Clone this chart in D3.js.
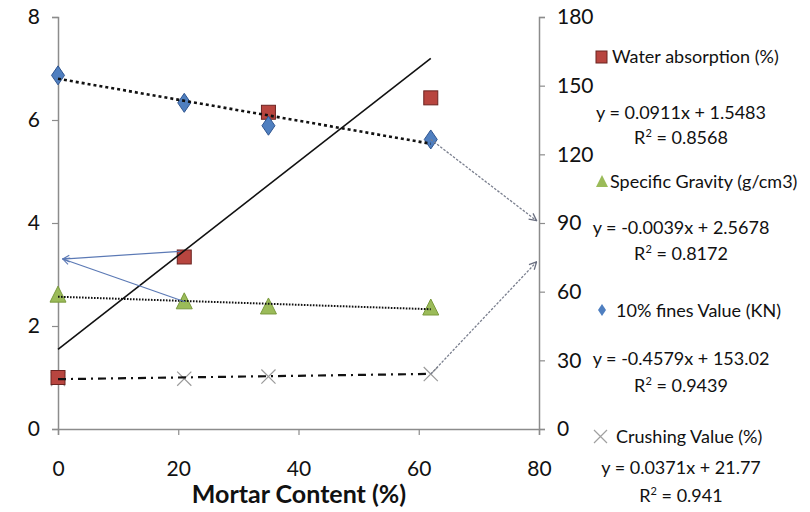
<!DOCTYPE html>
<html>
<head>
<meta charset="utf-8">
<script src="https://cdn.jsdelivr.net/npm/d3@7.9.0/dist/d3.min.js"></script>
<style>
  body { margin: 0; background: #fff; }
  svg { display: block; font-family: Lato, "Open Sans", sans-serif; }
</style>
</head>
<body>
<svg id="chart" width="810" height="512"></svg>
<script>
const mortar = [0, 21, 35, 62];
const waterAbsorption = [1.0, 3.34, 6.15, 6.43];   // left axis
const specificGravity = [2.58, 2.45, 2.35, 2.33];  // left axis
const finesValue = [154.5, 142.5, 132.5, 126.5];   // right axis
const crushingValue = [21.8, 22.0, 22.9, 24.0];    // right axis

const xTicks = [0, 20, 40, 60, 80];
const leftTicks = [0, 2, 4, 6, 8];
const rightTicks = [0, 30, 60, 90, 120, 150, 180];

// trend lines: [slope, intercept]
const waterFit = [0.0911, 1.5483];
const gravityFit = [-0.0039, 2.5678];
const finesFit = [-0.4579, 153.02];
const crushFit = [0.0371, 21.77];

// annotation arrows left in the picture
const blueLeaders = [[[20.3, 3.45], [0.8, 3.3]], [[21.1, 2.47], [0.8, 3.3]]];
const grayArrows = [[[62, 126.5], [79.6, 91]], [[62, 24.0], [79.6, 73]]];

const legendItems = [
  { name: 'Water absorption (%)', eq: 'y = 0.0911x + 1.5483', r2: '0.8568' },
  { name: 'Specific Gravity (g/cm3)', eq: 'y = -0.0039x + 2.5678', r2: '0.8172' },
  { name: '10% fines Value (KN)', eq: 'y = -0.4579x + 153.02', r2: '0.9439' },
  { name: 'Crushing Value (%)', eq: 'y = 0.0371x + 21.77', r2: '0.941' }
];

const svg = d3.select('#chart');
const x = d3.scaleLinear().domain([0, 80]).range([58, 539]);
const yL = d3.scaleLinear().domain([0, 8]).range([429, 17]);
const yR = d3.scaleLinear().domain([0, 180]).range([429, 17]);

const axisColor = '#8c8c8c';

const defs = svg.append('defs');
defs.append('marker').attr('id', 'arrBlue').attr('viewBox', '0 0 10 10')
  .attr('refX', 9).attr('refY', 5).attr('markerWidth', 7).attr('markerHeight', 7)
  .attr('orient', 'auto')
  .append('path').attr('d', 'M1,1 L9,5 L1,9').attr('fill', 'none').attr('stroke', '#5b79b5').attr('stroke-width', 1.4);
defs.append('marker').attr('id', 'arrGray').attr('viewBox', '0 0 10 10')
  .attr('refX', 9).attr('refY', 5).attr('markerWidth', 7).attr('markerHeight', 7)
  .attr('orient', 'auto')
  .append('path').attr('d', 'M1,1 L9,5 L1,9').attr('fill', 'none').attr('stroke', '#6a6f80').attr('stroke-width', 1.4);

// axes
const gx = svg.append('g').attr('transform', `translate(0,${yL(0)})`)
  .call(d3.axisBottom(x).tickValues(xTicks).tickSize(6).tickPadding(26));
const gl = svg.append('g').attr('transform', `translate(${x(0)},0)`)
  .call(d3.axisLeft(yL).tickValues(leftTicks).tickSize(6).tickPadding(12));
const gr = svg.append('g').attr('transform', `translate(${x(80)},0)`)
  .call(d3.axisRight(yR).tickValues(rightTicks).tickSize(6).tickPadding(12));
[gx, gl, gr].forEach(g => {
  g.select('.domain').attr('stroke', axisColor).attr('stroke-width', 1.5);
  g.selectAll('.tick line').attr('stroke', axisColor).attr('stroke-width', 1.2);
  g.selectAll('.tick text').attr('font-size', 21).attr('fill', '#111')
    .attr('font-family', 'Lato, sans-serif');
});

svg.append('text').attr('x', 299).attr('y', 503).attr('text-anchor', 'middle')
  .attr('font-size', 25).attr('font-weight', 'bold').attr('fill', '#111')
  .text('Mortar Content (%)');

// markers
const marks = svg.append('g');
marks.selectAll('.crush').data(mortar).join('path')
  .attr('transform', (d, i) => `translate(${x(d)},${yR(crushingValue[i])}) rotate(45)`)
  .attr('d', 'M-10,0 L10,0 M0,-10 L0,10')
  .attr('stroke', '#9a9a9a').attr('stroke-width', 1.2).attr('fill', 'none');
marks.selectAll('.water').data(mortar).join('rect')
  .attr('x', (d) => x(d) - 7).attr('y', (d, i) => yL(waterAbsorption[i]) - 7)
  .attr('width', 14).attr('height', 14)
  .attr('fill', '#b8453f').attr('stroke', '#6b2421').attr('stroke-width', 1);
marks.selectAll('.grav').data(mortar).join('path')
  .attr('transform', (d, i) => `translate(${x(d)},${yL(specificGravity[i])})`)
  .attr('d', 'M0,-10 L8,6 L-8,6 Z')
  .attr('fill', '#9bbb59').attr('stroke', '#7a9a3c').attr('stroke-width', 1);
marks.selectAll('.fines').data(mortar).join('path')
  .attr('transform', (d, i) => `translate(${x(d)},${yR(finesValue[i])})`)
  .attr('d', 'M0,-9.5 L6.5,0 L0,9.5 L-6.5,0 Z')
  .attr('fill', '#4f7fc0').attr('stroke', '#2f5590').attr('stroke-width', 1);

// trend lines
const trend = (fit, y, x0, x1) => [[x(x0), y(fit[1] + fit[0] * x0)], [x(x1), y(fit[1] + fit[0] * x1)]];
const line = d3.line();
svg.append('path').attr('d', line(trend(waterFit, yL, 0, 62)))
  .attr('stroke', '#111').attr('stroke-width', 1.6).attr('fill', 'none');
svg.append('path').attr('d', line(trend(gravityFit, yL, 0, 62)))
  .attr('stroke', '#111').attr('stroke-width', 2).attr('stroke-dasharray', '1.6,1.4').attr('fill', 'none');
svg.append('path').attr('d', line(trend(finesFit, yR, 0, 62)))
  .attr('stroke', '#111').attr('stroke-width', 2.6).attr('stroke-dasharray', '3,3').attr('fill', 'none');
svg.append('path').attr('d', line(trend(crushFit, yR, 0, 62)))
  .attr('stroke', '#111').attr('stroke-width', 2.2).attr('stroke-dasharray', '8,5,2,5').attr('fill', 'none');

// leaders / arrows
blueLeaders.forEach(([a, b]) => {
  svg.append('path').attr('d', line([[x(a[0]), yL(a[1])], [x(b[0]), yL(b[1])]]))
    .attr('stroke', '#5b79b5').attr('stroke-width', 1.2).attr('fill', 'none')
    .attr('marker-end', 'url(#arrBlue)');
});
grayArrows.forEach(([a, b]) => {
  svg.append('path').attr('d', line([[x(a[0]), yR(a[1])], [x(b[0]), yR(b[1])]]))
    .attr('stroke', '#7a7f8e').attr('stroke-width', 1.3).attr('stroke-dasharray', '2.5,1.5').attr('fill', 'none')
    .attr('marker-end', 'url(#arrGray)');
});

// legend
const legendY = [57, 182, 311, 437];
const eqY = [113, 228, 359, 468];
const r2Y = [138, 254, 386, 496];
const leg = svg.append('g').attr('font-size', 18).attr('fill', '#111');
legendItems.forEach((d, i) => {
  const cy = legendY[i];
  const g = leg.append('g');
  if (i === 0) {
    g.append('rect').attr('x', 596).attr('y', cy - 6).attr('width', 11).attr('height', 12)
      .attr('fill', '#b8453f').attr('stroke', '#6b2421');
  } else if (i === 1) {
    g.append('path').attr('d', `M602,${cy - 7} L608,${cy + 5} L596,${cy + 5} Z`).attr('fill', '#9bbb59');
  } else if (i === 2) {
    g.append('path').attr('d', `M602,${cy - 7} L606,${cy - 1} L602,${cy + 5} L598,${cy - 1} Z`).attr('fill', '#4f7fc0');
  } else {
    g.append('path').attr('d', `M594,${cy - 7} L607,${cy + 6} M607,${cy - 7} L594,${cy + 6}`)
      .attr('stroke', '#a0a0a0').attr('stroke-width', 1.2);
  }
  const tx = i === 0 ? 612 : i === 1 ? 610 : 616;
  leg.append('text').attr('x', tx).attr('y', cy + 6).text(d.name);
  leg.append('text').attr('x', 681).attr('y', eqY[i] + 6).attr('text-anchor', 'middle').text(d.eq);
  const r = leg.append('text').attr('x', 681).attr('y', r2Y[i] + 6).attr('text-anchor', 'middle');
  r.append('tspan').text('R');
  r.append('tspan').attr('font-size', 11).attr('dy', -7).text('2');
  r.append('tspan').attr('dy', 7).text(' = ' + d.r2);
});
</script>
</body>
</html>
